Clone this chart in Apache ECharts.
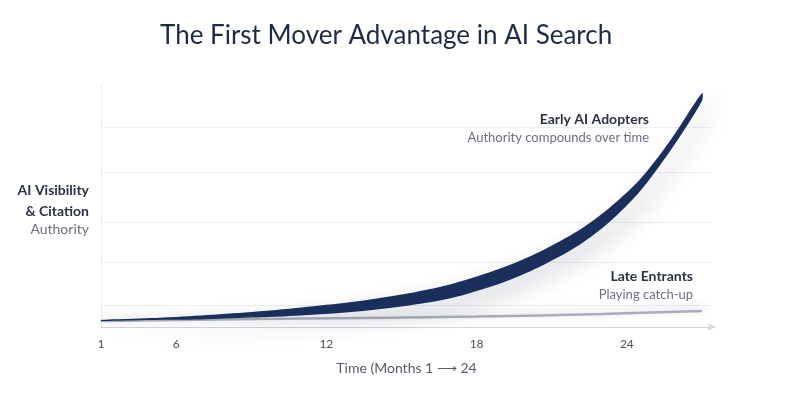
<!DOCTYPE html>
<html>
<head>
<meta charset="utf-8">
<script src="https://cdn.jsdelivr.net/npm/echarts@6/dist/echarts.min.js"></script>
<style>html,body{margin:0;padding:0;background:#fff;}#c{width:800px;height:400px;}</style>
</head>
<body>
<div id="c"></div>
<script>
// ---- data ----
const months      = [3, 5, 7, 9, 11, 13, 15, 17, 19, 20.5, 22.1, 23.3, 24.5, 25.7, 27];
const earlyUpper  = [2.9, 3.7, 4.8, 6.2, 8.1, 10.3, 13.4, 17.8, 24.4, 31.0, 40.1, 49.2, 60.7, 76.5, 96.7];
const earlyLower  = [2.5, 2.9, 3.1, 3.9, 4.8, 6.2, 8.5, 12.0, 18.2, 24.8, 33.9, 43.4, 55.8, 72.3, 93.4];
const lateMonths  = [3, 11, 18, 23, 27];
const lateValues  = [2.5, 3.5, 4.3, 5.4, 6.6];
const gridValues  = [9.1, 26.9, 43.4, 64.0, 82.6];
const xTickValues = [3, 6, 12, 18, 24];
const xTickLabels = ['1', '6', '12', '18', '24'];

const FONT = 'Lato, "Open Sans", sans-serif';
const chart = echarts.init(document.getElementById('c'), null, {renderer: 'canvas'});

const bandData = months.map((m, i) => [m, earlyUpper[i], earlyLower[i]]);
const lateData = lateMonths.map((m, i) => [m, lateValues[i]]);

function renderBand(params, api) {
  if (params.dataIndex !== 0) return null;
  const pts = [];
  for (let i = 0; i < months.length; i++) pts.push(api.coord([months[i], earlyUpper[i]]));
  for (let i = months.length - 1; i >= 0; i--) pts.push(api.coord([months[i], earlyLower[i]]));
  return {
    type: 'polygon',
    shape: {points: pts, smooth: 0.3},
    style: {
      fill: '#1b2f5c',
      shadowColor: 'rgba(30,40,70,0.2)', shadowBlur: 22, shadowOffsetX: 10, shadowOffsetY: 8
    }
  };
}

chart.setOption({
  backgroundColor: '#ffffff',
  animation: false,
  title: {
    text: 'The First Mover Advantage in AI Search',
    left: 155, top: 18,
    textStyle: {fontFamily: FONT, fontSize: 26, fontWeight: 'normal', color: '#1f2a44'}
  },
  grid: {left: 101, right: 88, top: 85, bottom: 73, containLabel: false, outerBoundsMode: 'none'},
  xAxis: {
    type: 'value', min: 3, max: 27.4,
    axisLine: {show: true, lineStyle: {color: '#d3d6dc', width: 1}, symbol: ['none', 'arrow'], symbolSize: [6, 9], symbolOffset: [0, 4]},
    axisTick: {show: false},
    splitLine: {show: false},
    axisLabel: {
      customValues: xTickValues,
      showMinLabel: true,
      margin: 11,
      color: '#4a4f5c', fontSize: 12, fontFamily: FONT,
      formatter: v => { const i = xTickValues.indexOf(v); return i >= 0 ? xTickLabels[i] : ''; }
    },
    name: 'Time (Months 1 \u27F6 24',
    nameLocation: 'middle', nameGap: 34,
    nameTextStyle: {color: '#555b68', fontSize: 14, fontFamily: FONT}
  },
  yAxis: {
    type: 'value', min: 0, max: 100,
    axisLine: {show: true, lineStyle: {color: '#e9ebef', width: 1}},
    axisTick: {show: false},
    axisLabel: {show: false},
    splitLine: {show: false}
  },
  graphic: [
    {type: 'text', x: 89, y: 190, style: {text: 'AI Visibility', align: 'right', verticalAlign: 'middle', fontFamily: FONT, fontSize: 14, fontWeight: 'bold', fill: '#2b3243'}},
    {type: 'text', x: 89, y: 211, style: {text: '& Citation', align: 'right', verticalAlign: 'middle', fontFamily: FONT, fontSize: 14, fontWeight: 'bold', fill: '#2b3243'}},
    {type: 'text', x: 89, y: 229, style: {text: 'Authority', align: 'right', verticalAlign: 'middle', fontFamily: FONT, fontSize: 14, fontWeight: 'normal', fill: '#6b7080'}},
    {type: 'text', x: 649, y: 119, style: {text: 'Early AI Adopters', align: 'right', verticalAlign: 'middle', fontFamily: FONT, fontSize: 14, fontWeight: 'bold', fill: '#2b3243'}},
    {type: 'text', x: 649, y: 138, style: {text: 'Authority compounds over time', align: 'right', verticalAlign: 'middle', fontFamily: FONT, fontSize: 13, fontWeight: 'normal', fill: '#6b7080'}},
    {type: 'text', x: 693, y: 276, style: {text: 'Late Entrants', align: 'right', verticalAlign: 'middle', fontFamily: FONT, fontSize: 14, fontWeight: 'bold', fill: '#2b3243'}},
    {type: 'text', x: 693, y: 295, style: {text: 'Playing catch-up', align: 'right', verticalAlign: 'middle', fontFamily: FONT, fontSize: 13, fontWeight: 'normal', fill: '#6b7080'}}
  ],
  series: [
    {
      name: 'grid', type: 'line', data: [], silent: true, z: 1,
      markLine: {
        silent: true, z: 1, symbol: ['none', 'none'], label: {show: false},
        lineStyle: {color: '#eceef2', width: 1, type: 'solid'},
        data: gridValues.map(v => ({yAxis: v}))
      }
    },
    {
      name: 'Late Entrants', type: 'line', data: lateData, smooth: 0.4,
      showSymbol: false, silent: true, z: 3,
      lineStyle: {color: '#a9adba', width: 2.5, shadowColor: 'rgba(120,125,145,0.35)', shadowBlur: 8, shadowOffsetY: -2}
    },
    {
      name: 'Early AI Adopters', type: 'custom', data: bandData,
      encode: {x: 0, y: [1, 2]}, renderItem: renderBand, silent: true, z: 4
    }
  ]
});
</script>
</body>
</html>
